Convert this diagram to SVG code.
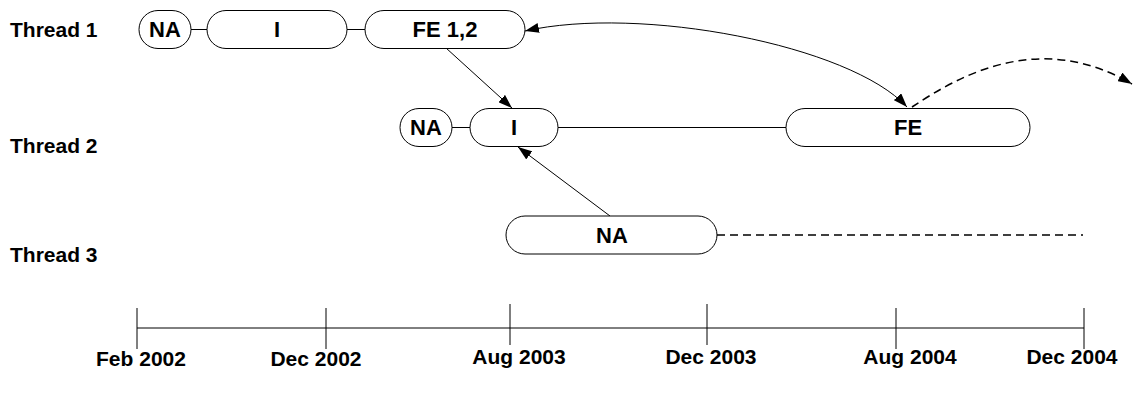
<svg xmlns="http://www.w3.org/2000/svg" width="1133" height="396" viewBox="0 0 1133 396">
<style>
.node{fill:#fff;stroke:#000;stroke-width:1}
.lbl{font-family:"Liberation Sans",Arial,sans-serif;font-weight:bold;font-size:22px;text-anchor:middle;fill:#000}
.thr{font-family:"Liberation Sans",Arial,sans-serif;font-weight:bold;font-size:21px;fill:#000}
.date{font-family:"Liberation Sans",Arial,sans-serif;font-weight:bold;font-size:21px;text-anchor:middle;fill:#000}
.ln{stroke:#000;stroke-width:1;fill:none}
.dash{stroke:#000;stroke-width:1.5;fill:none;stroke-dasharray:8 5}
</style>
<defs>
<marker id="ah" viewBox="0 0 14 10" refX="14" refY="5" markerWidth="14" markerHeight="10" markerUnits="userSpaceOnUse" orient="auto-start-reverse">
<path d="M0,0 L14,5 L0,10 z" fill="#000"/>
</marker>
</defs>
<rect width="1133" height="396" fill="#fff"/>
<g id="thread-labels">
<text class="thr" x="10" y="37">Thread 1</text>
<text class="thr" x="10" y="153">Thread 2</text>
<text class="thr" x="10" y="262">Thread 3</text>
</g>
<g id="connectors">
<line class="ln" x1="191" y1="29.5" x2="207" y2="29.5"/>
<line class="ln" x1="347" y1="29.5" x2="365" y2="29.5"/>
<line class="ln" x1="452" y1="127.5" x2="470" y2="127.5"/>
<line class="ln" x1="558" y1="127.5" x2="786" y2="127.5"/>
<line class="dash" x1="717" y1="235" x2="1083" y2="235"/>
<line class="ln" x1="446" y1="48" x2="512" y2="108" marker-end="url(#ah)"/>
<line class="ln" x1="610" y1="216" x2="518" y2="147" marker-end="url(#ah)"/>
<path class="ln" d="M907,107 C850,45 640,5 525,31" marker-start="url(#ah)" marker-end="url(#ah)"/>
<path class="dash" d="M912,107 C960,75 1040,30 1132,84" marker-end="url(#ah)"/>
</g>
<g id="t1-na"><rect class="node" x="139" y="10.5" width="52" height="38" rx="19"/><text class="lbl" x="165" y="37">NA</text></g>
<g id="t1-i"><rect class="node" x="207" y="10.5" width="140" height="38" rx="19"/><text class="lbl" x="277" y="37">I</text></g>
<g id="t1-fe"><rect class="node" x="365" y="10.5" width="160" height="38" rx="19"/><text class="lbl" x="445" y="37">FE 1,2</text></g>
<g id="t2-na"><rect class="node" x="400" y="108.5" width="52" height="38" rx="19"/><text class="lbl" x="426" y="135">NA</text></g>
<g id="t2-i"><rect class="node" x="470" y="108.5" width="88" height="38" rx="19"/><text class="lbl" x="514" y="135">I</text></g>
<g id="t2-fe"><rect class="node" x="786" y="108.5" width="244" height="38" rx="19"/><text class="lbl" x="908" y="135">FE</text></g>
<g id="t3-na"><rect class="node" x="506" y="216" width="211" height="38" rx="19"/><text class="lbl" x="612" y="243">NA</text></g>
<g id="timeline">
<line class="ln" x1="137" y1="328" x2="1084" y2="328"/>
<line class="ln" x1="137" y1="308" x2="137" y2="349"/>
<line class="ln" x1="326" y1="308" x2="326" y2="349"/>
<line class="ln" x1="510" y1="304" x2="510" y2="345"/>
<line class="ln" x1="707" y1="304" x2="707" y2="345"/>
<line class="ln" x1="896" y1="308" x2="896" y2="349"/>
<line class="ln" x1="1084" y1="308" x2="1084" y2="349"/>
<text class="date" x="141" y="366">Feb 2002</text>
<text class="date" x="316" y="366">Dec 2002</text>
<text class="date" x="519" y="364">Aug 2003</text>
<text class="date" x="711" y="364">Dec 2003</text>
<text class="date" x="910" y="364">Aug 2004</text>
<text class="date" x="1072" y="364">Dec 2004</text>
</g>
</svg>
